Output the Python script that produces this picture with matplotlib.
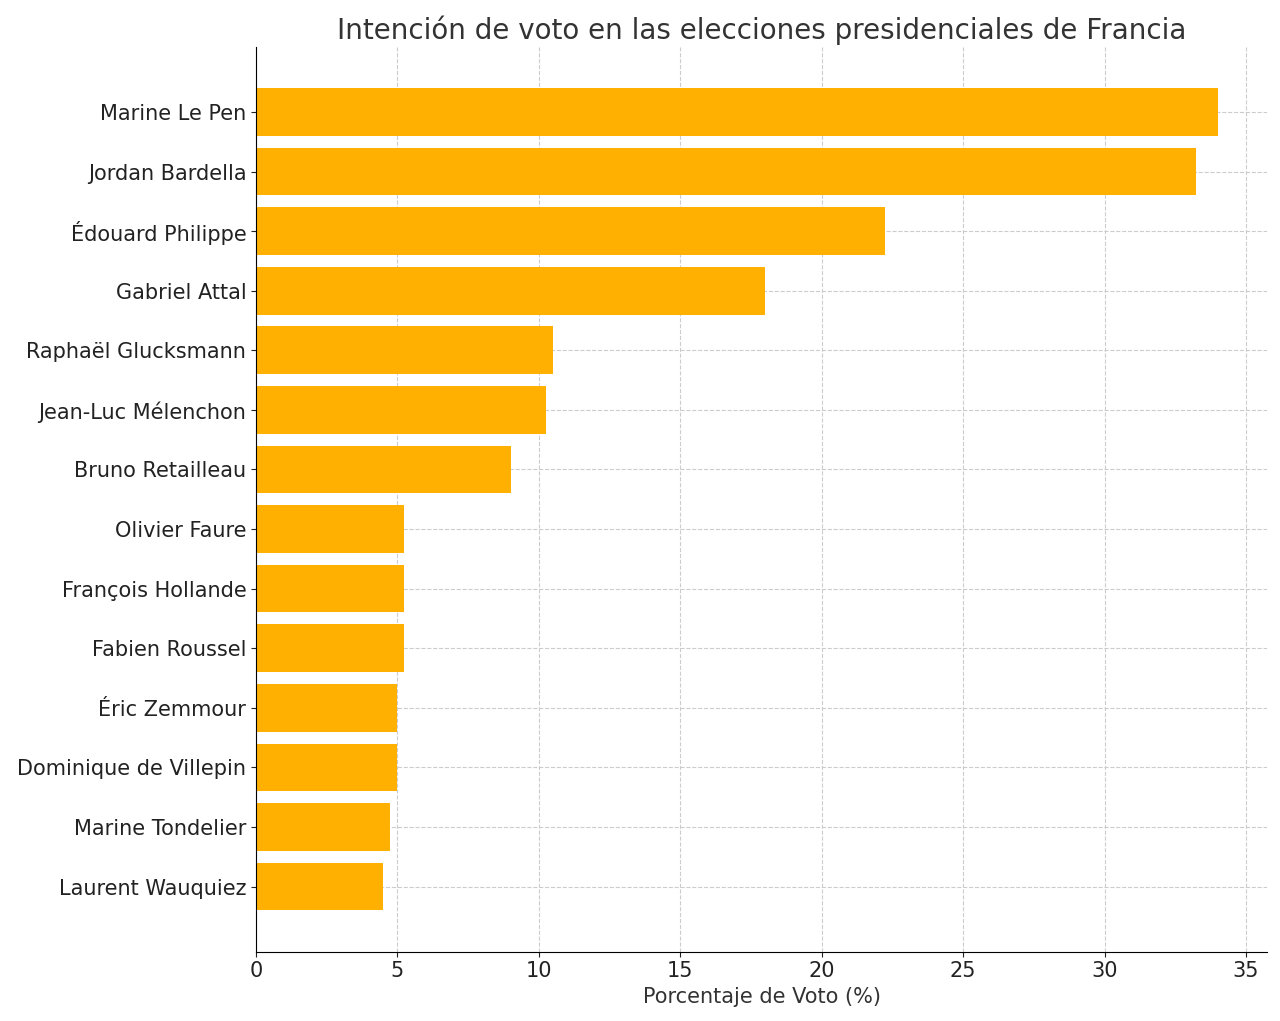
import matplotlib.pyplot as plt

candidatos = ["Marine Le Pen", "Jordan Bardella", "Édouard Philippe", "Gabriel Attal",
              "Raphaël Glucksmann", "Jean-Luc Mélenchon", "Bruno Retailleau", "Olivier Faure",
              "François Hollande", "Fabien Roussel", "Éric Zemmour", "Dominique de Villepin",
              "Marine Tondelier", "Laurent Wauquiez"]
votos = [34, 33.25, 22.25, 18, 10.5, 10.25, 9, 5.25, 5.25, 5.25, 5, 5, 4.75, 4.5]

fig, ax = plt.subplots(figsize=(12.8, 10.21), dpi=100)
fig.subplots_adjust(left=0.2, right=0.99, top=0.954, bottom=0.068)

ax.barh(candidatos[::-1], votos[::-1], color="#FFB000", height=0.8)
ax.set_xlim(0, 35.75)
ax.set_xlabel("Porcentaje de Voto (%)", fontsize=15, color="#333333")
ax.set_title("Intención de voto en las elecciones presidenciales de Francia", fontsize=20, color="#333333")
ax.tick_params(labelsize=15, colors="#222222")
ax.grid(True, linestyle="--", color="#cccccc", linewidth=0.8)
ax.set_axisbelow(True)
for s in ["top", "right"]:
    ax.spines[s].set_visible(False)

plt.savefig("out.png")
